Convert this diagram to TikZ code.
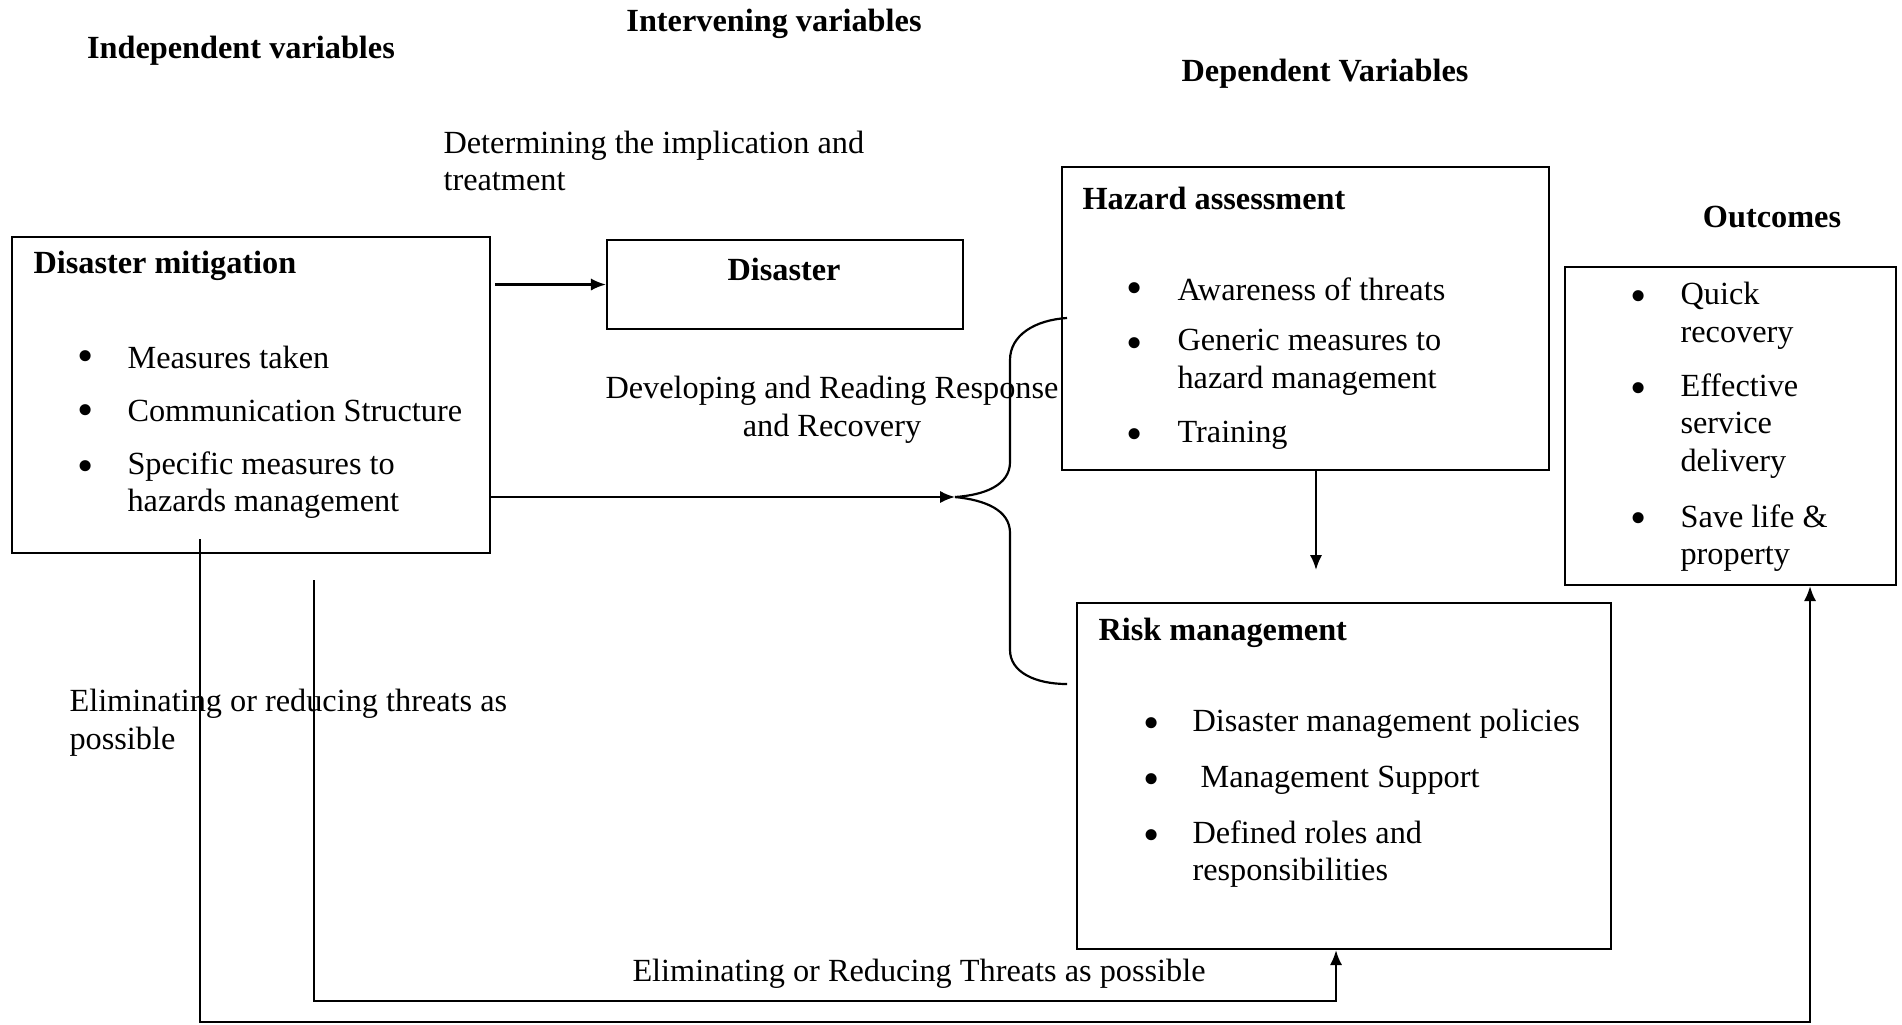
\documentclass[tikz,border=0pt]{standalone}
\usepackage{fontspec}
\setmainfont{Liberation Serif}
\usetikzlibrary{arrows.meta,fit}

\tikzset{
    box/.style={draw, line width=0.8pt, inner sep=0pt},
    txt/.style={anchor=west, inner sep=0pt, align=left, font=\fontsize{11.85}{13.8}\selectfont},
    ttl/.style={txt, font=\fontsize{11.85}{13.8}\selectfont\bfseries},
    bul/.style={inner sep=0pt, yshift=-1.6pt, font=\fontsize{17}{17}\selectfont},
    link/.style={line width=0.8pt},
    tip/.style={-{Latex[length=5.5pt,width=4.5pt]}},
}

\begin{document}
\begin{tikzpicture}[x=0.367pt, y=-0.367pt]
    % page size
    \useasboundingbox (0,0) rectangle (1902,1024);

    % headings
    \node[ttl, anchor=center] (indep) at (241,51) {Independent variables};
    \node[ttl, anchor=center] (interv) at (774,24) {Intervening variables};
    \node[ttl, anchor=center] (dep) at (1325,74) {Dependent Variables};
    \node[ttl, anchor=center] (outc) at (1772,217) {Outcomes};

    % draw boxes
    \node[box, fit={(12,237) (490,553)}] (mit) {};
    \node[box, fit={(607,240) (963,329)}] (disaster) {};
    \node[box, fit={(1062,167) (1549,470)}] (hazard) {};
    \node[box, fit={(1077,603) (1611,949)}] (risk) {};
    \node[box, fit={(1565,267) (1896,585)}] (outcome) {};

    % box titles
    \node[ttl] (mitT) at (33,266) {Disaster mitigation};
    \node[ttl, anchor=center] (disT) at (784,269) {Disaster};
    \node[ttl] (hazT) at (1082,198) {Hazard assessment};
    \node[ttl] (riskT) at (1098,633) {Risk management};

    % bullet lists
    \foreach \by/\y/\t [count=\i] in {357/357/Measures taken, 411/411/Communication Structure,
                                      467/485/{Specific measures to\\hazards management}}
    {
        \node[bul] (mb\i) at (86,\by) {\textbullet};
        \node[txt] (mt\i) at (127,\y) {\t};
    }
    \foreach \by/\y/\t [count=\i] in {289/289/Awareness of threats,
                                      344/362/{Generic measures to\\hazard management},
                                      435/435/Training}
    {
        \node[bul] (hb\i) at (1135,\by) {\textbullet};
        \node[txt] (ht\i) at (1177,\y) {\t};
    }
    \foreach \by/\y/\t [count=\i] in {724/724/Disaster management policies,
                                      780/780/{\ Management Support},
                                      836/854/{Defined roles and\\responsibilities}}
    {
        \node[bul] (rb\i) at (1152,\by) {\textbullet};
        \node[txt] (rt\i) at (1192,\y) {\t};
    }
    \foreach \by/\y/\t [count=\i] in {297/316/{Quick\\recovery},
                                      389/426/{Effective\\service\\delivery},
                                      519/538/{Save life \&\\property}}
    {
        \node[bul] (ob\i) at (1639,\by) {\textbullet};
        \node[txt] (ot\i) at (1680,\y) {\t};
    }

    % labels
    \node[txt] (implic) at (443,161) {Determining the implication and\\treatment};
    \node[txt, align=center, anchor=center] (resp) at (832,410) {Developing and Reading Response\\and Recovery};
    \node[txt] (elim) at (69,723) {Eliminating or reducing threats as\\possible};
    \node[txt, anchor=center] (elim2) at (919,974) {Eliminating or Reducing Threats as possible};

    % arrows
    \coordinate (tip) at (955,497);
    \coordinate (hr) at (1316,0);
    \coordinate (dn) at (1316,570);
    \coordinate (st) at (495,0);
    \draw[link, tip] (st |- disaster.west) -- (disaster.west);
    \draw[link, tip] (mit.east |- tip) -- (tip);
    \draw[link, tip] (hazard.south -| hr) -- (dn);

    % draw brace
    \draw[link] (tip) .. controls (985,495) and (1010,485) .. (1010,462) -- (1010,360)
        .. controls (1010,335) and (1035,320) .. (1067,318);
    \draw[link] (tip) .. controls (985,500) and (1010,510) .. (1010,533) -- (1010,650)
        .. controls (1010,672) and (1035,684) .. (1067,684);

    % feedback lines
    \coordinate (l1) at (200,539);
    \coordinate (o1) at (1810,0);
    \draw[link, tip] (l1) -- (200,1022) -- (1810,1022) -- (outcome.south -| o1);
    \coordinate (l2) at (314,580);
    \coordinate (r1) at (1336,0);
    \draw[link, tip] (l2) -- (314,1001) -- (1336,1001) -- (risk.south -| r1);
\end{tikzpicture}
\end{document}
